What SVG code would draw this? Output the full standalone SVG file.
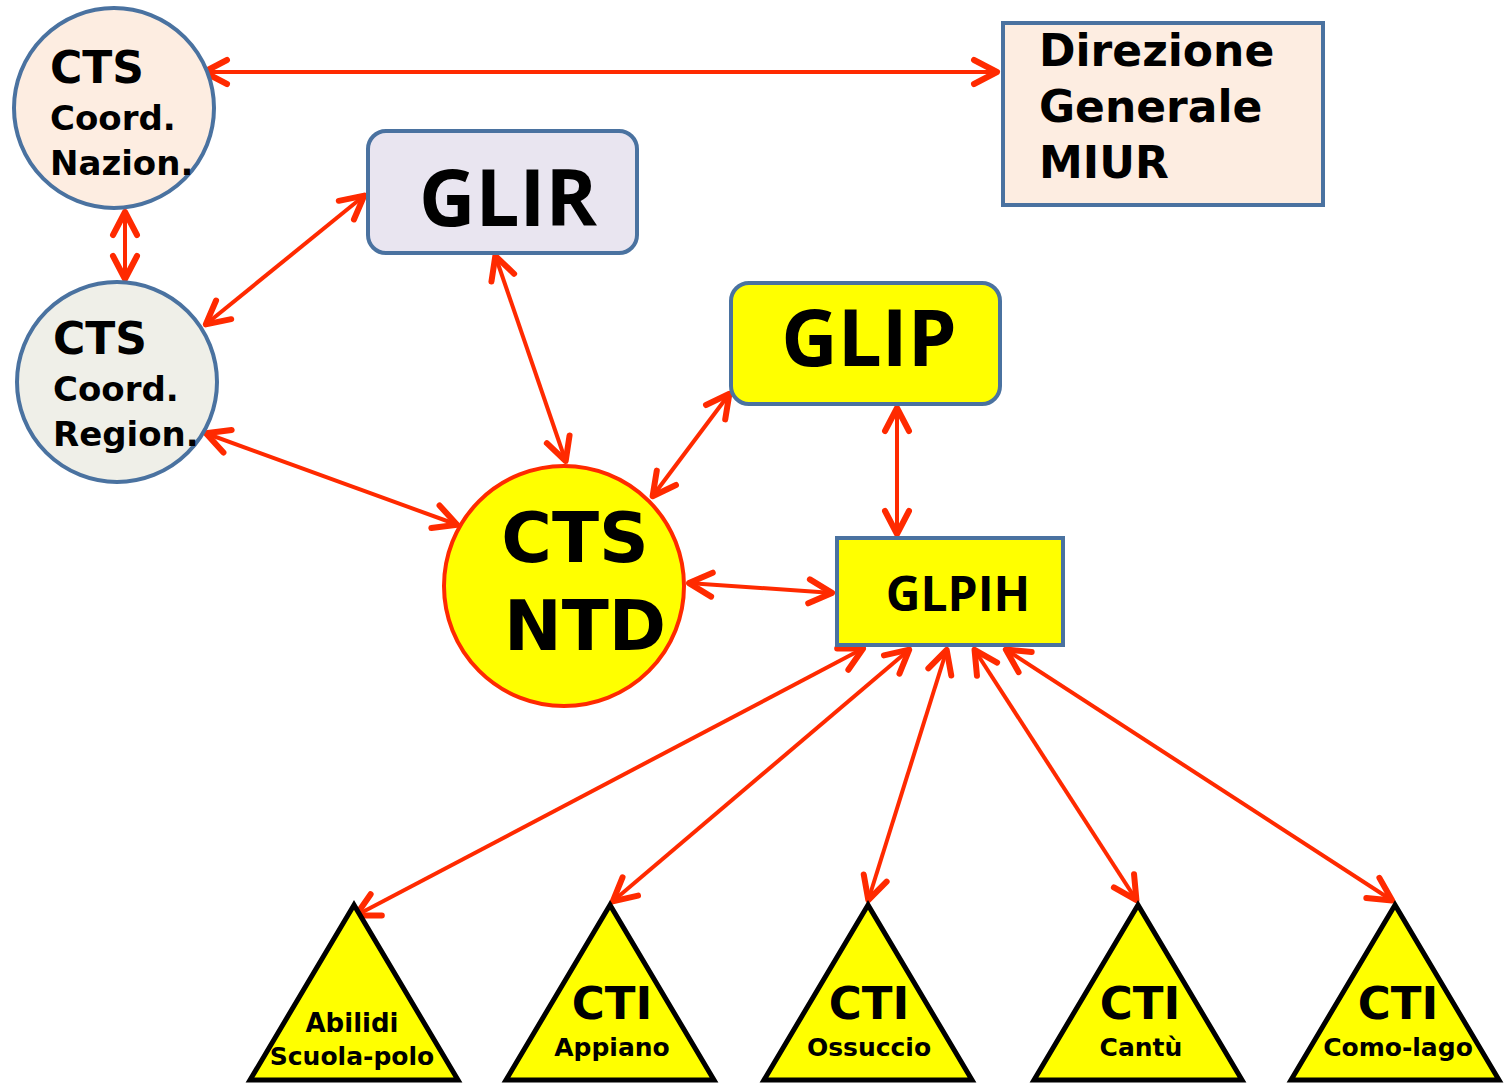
<svg xmlns="http://www.w3.org/2000/svg" width="1510" height="1084" viewBox="0 0 1510 1084">
<defs>
<style>
.bl{stroke:#4A72A0;stroke-width:4}
.os{font-family:"Open Sans","DejaVu Sans",sans-serif;font-weight:bold;fill:#000}
.dv{font-family:"DejaVu Sans","Open Sans",sans-serif;font-weight:bold;fill:#000}
.tri{fill:#FFFF00;stroke:#000;stroke-width:5;stroke-linejoin:miter}
.con{fill:none;stroke:#FF2A00;stroke-width:4;marker-start:url(#ah);marker-end:url(#ah)}
</style>
<marker id="ah" markerUnits="userSpaceOnUse" viewBox="-30 -16 34 32" refX="0" refY="0" markerWidth="34" markerHeight="32" orient="auto-start-reverse" overflow="visible">
<path d="M-24,-12 L-1,0 L-24,12" fill="none" stroke="#FF2A00" stroke-width="6" stroke-linecap="round" stroke-linejoin="round"/>
</marker>
</defs>
<rect width="1510" height="1084" fill="#fff"/>
<g id="connectors">
<line class="con" x1="203" y1="72" x2="998" y2="72"/>
<line class="con" x1="125" y1="211" x2="125" y2="280"/>
<line class="con" x1="365" y1="195" x2="205" y2="325"/>
<line class="con" x1="205" y1="433" x2="458" y2="525"/>
<line class="con" x1="495" y1="255" x2="566" y2="462"/>
<line class="con" x1="730" y1="393" x2="652" y2="497"/>
<line class="con" x1="897" y1="407" x2="897" y2="535"/>
<line class="con" x1="688" y1="583" x2="833" y2="593"/>
<line class="con" x1="864" y1="648" x2="355" y2="916"/>
<line class="con" x1="910" y1="649" x2="612" y2="902"/>
<line class="con" x1="947" y1="649" x2="868" y2="901"/>
<line class="con" x1="974" y1="649" x2="1137" y2="901"/>
<line class="con" x1="1005" y1="649" x2="1393" y2="901"/>
</g>
<g id="cts-naz">
<circle cx="114" cy="108" r="100" fill="#FDEDE1" class="bl"/>
<text class="dv" x="50" y="83" font-size="44">CTS</text>
<text class="dv" x="50" y="130" font-size="34">Coord.</text>
<text class="dv" x="50" y="175" font-size="34">Nazion.</text>
</g>
<g id="cts-reg">
<circle cx="117" cy="382" r="100" fill="#EFEFE8" class="bl"/>
<text class="dv" x="53" y="354" font-size="44">CTS</text>
<text class="dv" x="53" y="401" font-size="34">Coord.</text>
<text class="dv" x="53" y="446" font-size="34">Region.</text>
</g>
<g id="direzione">
<rect x="1003" y="23" width="320" height="182" fill="#FDEDE1" class="bl"/>
<text class="dv" x="1039" y="66" font-size="44">Direzione</text>
<text class="dv" x="1039" y="122" font-size="44">Generale</text>
<text class="dv" x="1039" y="178" font-size="44">MIUR</text>
</g>
<g id="glir">
<rect x="368" y="131" width="269" height="122" rx="18" fill="#E9E5F0" class="bl"/>
<text class="os" x="508" y="226" font-size="78" text-anchor="middle">GLIR</text>
</g>
<g id="glip">
<rect x="731" y="283" width="269" height="121" rx="18" fill="#FFFF00" class="bl"/>
<text class="os" x="869" y="366" font-size="78" text-anchor="middle">GLIP</text>
</g>
<g id="cts-ntd">
<circle cx="564" cy="586" r="120" fill="#FFFF00" stroke="#FF2A00" stroke-width="4"/>
<text class="dv" x="575" y="562" font-size="69" text-anchor="middle">CTS</text>
<text class="dv" x="585" y="650" font-size="69" text-anchor="middle">NTD</text>
</g>
<g id="glpih">
<rect x="837" y="538" width="226" height="107" fill="#FFFF00" class="bl"/>
<text class="os" x="958" y="611" font-size="48" text-anchor="middle">GLPIH</text>
</g>
<g id="t-abilidi">
<polygon class="tri" points="354,905 250,1080 458,1080"/>
<text class="dv" x="352" y="1032" font-size="26" text-anchor="middle">Abilidi</text>
<text class="dv" x="352" y="1065" font-size="25" text-anchor="middle">Scuola-polo</text>
</g>
<g id="t-appiano">
<polygon class="tri" points="610,905 506,1080 714,1080"/>
<text class="dv" x="612" y="1019" font-size="45" text-anchor="middle">CTI</text>
<text class="dv" x="612" y="1056" font-size="25" text-anchor="middle">Appiano</text>
</g>
<g id="t-ossuccio">
<polygon class="tri" points="868,905 764,1080 972,1080"/>
<text class="dv" x="869" y="1019" font-size="45" text-anchor="middle">CTI</text>
<text class="dv" x="869" y="1056" font-size="25" text-anchor="middle">Ossuccio</text>
</g>
<g id="t-cantu">
<polygon class="tri" points="1138,905 1034,1080 1242,1080"/>
<text class="dv" x="1140" y="1019" font-size="45" text-anchor="middle">CTI</text>
<text class="dv" x="1141" y="1056" font-size="25" text-anchor="middle">Cantù</text>
</g>
<g id="t-como">
<polygon class="tri" points="1395,905 1291,1080 1499,1080"/>
<text class="dv" x="1398" y="1019" font-size="45" text-anchor="middle">CTI</text>
<text class="dv" x="1398" y="1056" font-size="25" text-anchor="middle">Como-lago</text>
</g>
</svg>
